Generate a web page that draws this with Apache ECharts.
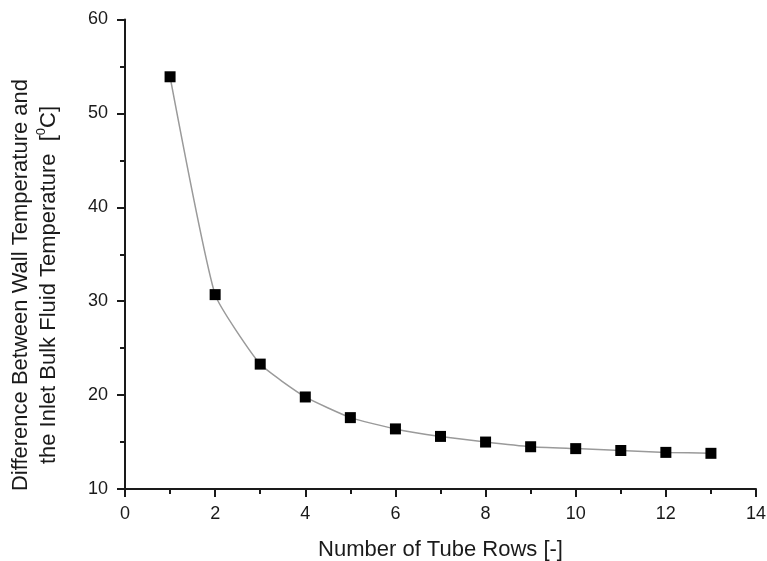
<!DOCTYPE html>
<html>
<head>
<meta charset="utf-8">
<script src="https://cdn.jsdelivr.net/npm/echarts@6/dist/echarts.min.js"></script>
<style>
  html, body { margin: 0; padding: 0; background: #fff; }
  #chart { width: 767px; height: 561px; }
</style>
</head>
<body>
<div id="chart"></div>
<script>
// Number of tube rows and the wall-to-inlet-bulk temperature difference
const tubeRows = [1, 2, 3, 4, 5, 6, 7, 8, 9, 10, 11, 12, 13];
const tempDiff = [53.9, 30.7, 23.3, 19.8, 17.6, 16.4, 15.6, 15.0, 14.5, 14.3, 14.1, 13.9, 13.8];

const xTitle = 'Number of Tube Rows [-]';
const yTitleLine1 = 'Difference Between Wall Temperature and';
const yTitleLine2 = 'the Inlet Bulk Fluid Temperature  [';

const FONT = '"Liberation Sans", Arial, sans-serif';
const INK = '#1a1a1a';

const chart = echarts.init(document.getElementById('chart'), null, { renderer: 'canvas' });

const axisCommon = {
  axisLine: { show: true, onZero: false, lineStyle: { color: INK, width: 2 } },
  axisTick: { show: true, inside: false, length: 8, lineStyle: { color: INK, width: 2 } },
  minorTick: { show: true, splitNumber: 2, length: 5, lineStyle: { color: INK, width: 2 } },
  splitLine: { show: false },
  minorSplitLine: { show: false },
  axisLabel: { color: INK, fontFamily: FONT, fontSize: 18 }
};

chart.setOption({
  backgroundColor: '#ffffff',
  animation: false,
  grid: { left: 125, right: 11, top: 19.5, bottom: 72, containLabel: false, outerBoundsMode: 'none' },
  xAxis: Object.assign({}, axisCommon, {
    type: 'value',
    min: 0, max: 14, interval: 2,
    name: xTitle,
    nameLocation: 'middle',
    nameGap: 50,
    nameTextStyle: { color: INK, fontFamily: FONT, fontSize: 22 },
    axisLabel: Object.assign({}, axisCommon.axisLabel, { margin: 16 })
  }),
  yAxis: Object.assign({}, axisCommon, {
    type: 'value',
    min: 10, max: 60, interval: 10,
    axisLabel: Object.assign({}, axisCommon.axisLabel, { margin: 17 })
  }),
  graphic: [{
    type: 'text',
    x: 35, y: 285,
    rotation: Math.PI / 2,
    style: {
      text: yTitleLine1 + '\n' + yTitleLine2 + '{sup|0}C]',
      font: '22px ' + FONT,
      fill: INK,
      align: 'center',
      verticalAlign: 'middle',
      lineHeight: 28,
      rich: {
        sup: { fontSize: 13, fontFamily: FONT, fill: INK, verticalAlign: 'top', lineHeight: 28 }
      }
    }
  }],
  series: [{
    type: 'line',
    data: tubeRows.map((r, i) => [r, tempDiff[i]]),
    smooth: 0.15,
    symbol: 'rect',
    symbolSize: 11,
    itemStyle: { color: '#000000' },
    lineStyle: { color: '#9a9a9a', width: 1.5 }
  }]
});
</script>
</body>
</html>
